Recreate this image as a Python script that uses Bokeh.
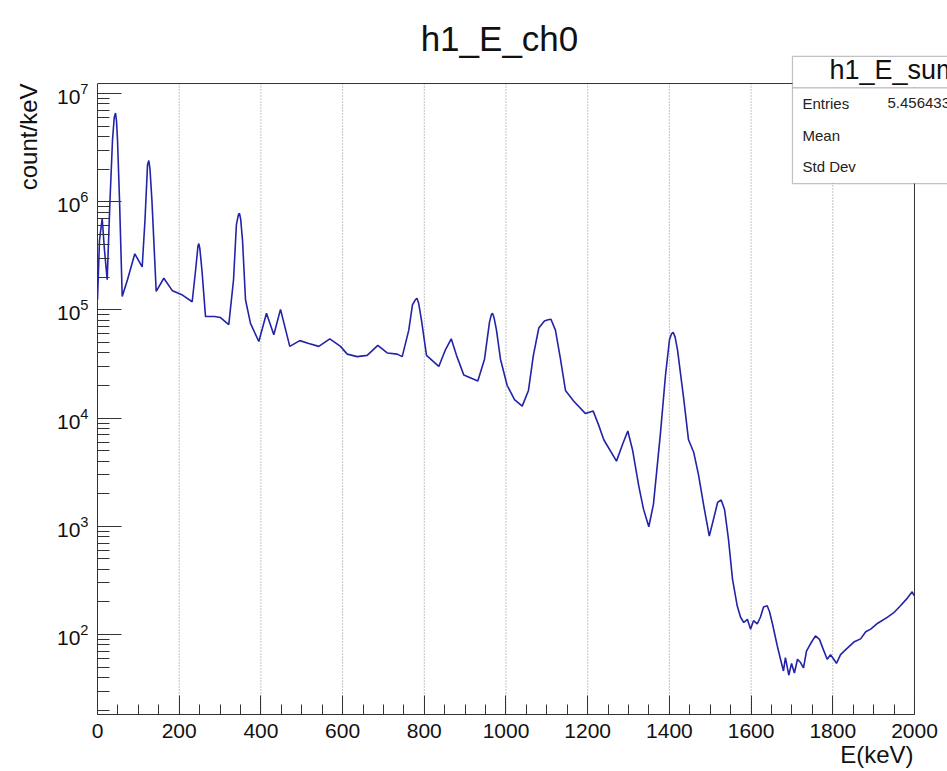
from bokeh.plotting import figure
from bokeh.models import Range1d, FixedTicker, Label, BoxAnnotation, Title
from bokeh.embed import file_html
from bokeh.resources import INLINE

# ---- data ----
energy_kev = [0, 4.9, 11.5, 17, 23.7, 30.6, 36.7, 41, 44.1, 46.5, 49, 53.9, 60.5, 73.4, 91.3, 109.4,
              116.3, 122.5, 125.6, 128.5, 133.4, 143.7, 162.3, 183.6, 208, 231.8, 240, 246, 248,
              250.5, 255.8, 264.4, 286.4, 301, 321.4, 333, 340, 345, 347.6, 350.5, 355, 362.3,
              374.5, 394.9, 413.7, 431.6, 448, 470.7, 495.2, 517.3, 541.7, 568.7, 594.9, 611.3,
              635.7, 660.2, 686.2, 709.2, 733.7, 745.9, 762, 771, 778, 782, 786, 793, 805.4,
              835.5, 852, 865.9, 878.8, 896.7, 931, 947.4, 959.6, 964, 967, 971, 976.7, 986.5,
              1002.9, 1020.8, 1039.7, 1055, 1067, 1080.3, 1094, 1103, 1110, 1121, 1133.4, 1145.6,
              1166, 1194.6, 1213.5, 1226.4, 1239.4, 1270.5, 1285.2, 1298.2, 1309.7, 1325.1,
              1336.6, 1349.6, 1361, 1378.2, 1390.5, 1400.2, 1405, 1409.3, 1414, 1419.8, 1435.3,
              1446.8, 1459.7, 1471.2, 1484.2, 1497.7, 1508, 1518, 1526.8, 1535, 1544.6, 1554.5,
              1566, 1574, 1582, 1591, 1598.5, 1606, 1615, 1623, 1630.4, 1639.4, 1645, 1652.4,
              1663.9, 1672, 1679.3, 1684, 1692.3, 1699, 1706, 1713.6, 1721, 1728.3, 1735.6,
              1745.4, 1757.6, 1767.4, 1777.2, 1786.3, 1794.4, 1802.5, 1809, 1819, 1831, 1851.5,
              1868, 1880.7, 1892.8, 1910, 1933.2, 1948.6, 1965.7, 1980.4, 1994.4, 1999]
counts_per_kev = [1.24e5, 4.4e5, 7.0e5, 3.6e5, 1.9e5, 1.03e6, 3.7e6, 6.0e6, 6.6e6, 5.6e6, 3.7e6,
                  1.03e6, 1.33e5, 1.9e5, 3.3e5, 2.5e5, 6.8e5, 2.2e6, 2.4e6, 2.0e6, 1.0e6, 1.48e5,
                  1.96e5, 1.5e5, 1.37e5, 1.19e5, 2.3e5, 3.9e5, 4.1e5, 3.7e5, 2.3e5, 8.7e4, 8.7e4,
                  8.5e4, 7.3e4, 1.9e5, 6.1e5, 7.6e5, 7.8e5, 6.9e5, 4.4e5, 1.24e5, 7.5e4, 5.1e4,
                  9.3e4, 5.9e4, 1.01e5, 4.6e4, 5.2e4, 4.9e4, 4.6e4, 5.4e4, 4.6e4, 3.9e4, 3.7e4,
                  3.8e4, 4.7e4, 4.0e4, 3.9e4, 3.7e4, 6.5e4, 1.11e5, 1.24e5, 1.28e5, 1.16e5, 8.1e4,
                  3.8e4, 3.0e4, 4.3e4, 5.4e4, 3.8e4, 2.5e4, 2.2e4, 3.5e4, 7.7e4, 9.0e4, 9.3e4,
                  8.4e4, 6.5e4, 3.5e4, 2.0e4, 1.48e4, 1.29e4, 1.8e4, 3.8e4, 6.8e4, 7.9e4, 8.1e4,
                  8.2e4, 6.5e4, 3.5e4, 1.8e4, 1.43e4, 1.1e4, 1.16e4, 8.7e3, 6.3e3, 4.0e3, 5.7e3,
                  7.6e3, 5.1e3, 2.35e3, 1.44e3, 990, 1.6e3, 7.3e3, 2.5e4, 5.3e4, 6.0e4, 6.2e4,
                  5.6e4, 4.3e4, 1.48e4, 6.3e3, 4.8e3, 3.0e3, 1.54e3, 810, 1.16e3, 1.66e3, 1.75e3,
                  1.43e3, 760, 325, 184, 145, 129, 138, 112, 134, 125, 145, 179, 184, 163, 125, 79,
                  59, 46, 61, 42, 54, 44, 59, 55, 49, 70, 82, 97, 90, 72, 59, 65, 59, 54, 65, 72,
                  85, 91, 106, 112, 127, 144, 158, 184, 212, 248, 228]

x_major_ticks = [0, 200, 400, 600, 800, 1000, 1200, 1400, 1600, 1800, 2000]
x_minor_ticks = [e for e in range(50, 2000, 50) if e % 200 != 0]
x_grid_ticks = [200, 400, 600, 800, 1000, 1200, 1400, 1600, 1800]
y_major_ticks = [1e2, 1e3, 1e4, 1e5, 1e6, 1e7]

title_text = "h1_E_ch0"
x_label = "E(keV)"
y_label = "count/keV"
stats_name = "h1_E_sum"
stats_rows = ["Entries", "Mean", "Std Dev"]
stats_entries = "5.456433e+07"

# axis limits of the drawn histogram frame
X_MIN, X_MAX = 0, 2000
Y_MIN, Y_MAX = 18.2, 1.237e7
# the plotting area extends past the histogram frame (right edge and top),
# so that the title and the statistics box can be drawn there
X_VIEW_MAX = 2080.8
Y_VIEW_MAX = 7.24e7

y_minor_ticks = [k * 10.0 ** n for n in range(1, 8) for k in range(2, 10)
                 if Y_MIN <= k * 10.0 ** n <= Y_MAX]

FONT = "Liberation Sans"
LINE = "#2323a8"
DARK = "#333333"

p = figure(width=947, height=771, output_backend="svg", toolbar_location=None,
           y_axis_type="log",
           x_range=Range1d(X_MIN, X_VIEW_MAX), y_range=Range1d(Y_MIN, Y_VIEW_MAX),
           min_border_left=97, min_border_right=0, min_border_top=0, min_border_bottom=57,
           background_fill_color="white", border_fill_color="white")
p.outline_line_color = None
p.xgrid.visible = False
p.ygrid.visible = False

# axes
for ax in (p.xaxis[0], p.yaxis[0]):
    ax.axis_line_color = DARK
    ax.major_tick_line_color = DARK
    ax.minor_tick_line_color = DARK
    ax.major_tick_out = 0
    ax.minor_tick_out = 0
    ax.major_label_text_font = FONT
    ax.major_label_text_font_size = "21px"
    ax.major_label_text_color = "#111111"

p.xaxis.bounds = (X_MIN, X_MAX)
p.xaxis.ticker = FixedTicker(ticks=x_major_ticks, minor_ticks=x_minor_ticks)
p.xaxis.major_tick_in = 19
p.xaxis.minor_tick_in = 10
p.xaxis.major_label_standoff = 9

p.yaxis.bounds = (Y_MIN, Y_MAX)
p.yaxis.ticker = FixedTicker(ticks=y_major_ticks, minor_ticks=y_minor_ticks)
p.yaxis.major_tick_in = 24
p.yaxis.minor_tick_in = 12
p.yaxis.major_label_standoff = 9

# dotted vertical grid lines inside the histogram frame
p.segment(x0=x_grid_ticks, y0=[Y_MIN] * len(x_grid_ticks), x1=x_grid_ticks,
          y1=[Y_MAX] * len(x_grid_ticks), line_color="#8a8a8a", line_dash="1 2", line_width=1)

# top and right edges of the histogram frame
p.segment(x0=[X_MIN, X_MAX], y0=[Y_MAX, Y_MIN], x1=[X_MAX, X_MAX], y1=[Y_MAX, Y_MAX],
          line_color=DARK, line_width=1)

# spectrum
p.line(energy_kev, counts_per_kev, line_color=LINE, line_width=1.6)

# title
p.add_layout(Label(x=984, y=3.22e7, text=title_text, text_align="center", text_baseline="middle",
                   text_font=FONT, text_font_size="35px", text_color="#111111"))

# axis titles (in side panels, aligned at the axis ends)
p.add_layout(Title(text=x_label, align="right", offset=34, standoff=-3,
                   text_font=FONT, text_font_size="24px", text_font_style="normal",
                   text_color="#111111"), "below")
p.add_layout(Title(text=y_label, align="right", offset=83, standoff=24,
                   text_font=FONT, text_font_size="24px", text_font_style="normal",
                   text_color="#111111"), "left")

# statistics box
p.add_layout(BoxAnnotation(left=1701.3, right=2200, top=1.13e7, bottom=1.47e6,
                           fill_color="white", fill_alpha=1, line_color="#333333", line_width=1.2,
                           level="overlay"))
p.add_layout(BoxAnnotation(left=1701.3, right=2200, top=2.2e7, bottom=1.13e7,
                           fill_color="white", fill_alpha=1, line_color="#333333", line_width=1.2,
                           level="overlay"))
p.add_layout(Label(x=1792, y=1.632e7, text=stats_name, text_align="left", text_baseline="middle",
                   text_font=FONT, text_font_size="27px", text_color="#111111", level="overlay"))
row_y = [8.13e6, 4.09e6, 2.11e6]
for name, yy in zip(stats_rows, row_y):
    p.add_layout(Label(x=1725.8, y=yy, text=name, text_align="left", text_baseline="middle",
                       text_font=FONT, text_font_size="15px", text_color="#222222",
                       level="overlay"))
p.add_layout(Label(x=1933.9, y=row_y[0], text=stats_entries, text_align="left",
                   text_baseline="middle", text_font=FONT, text_font_size="15px",
                   text_color="#222222", level="overlay"))

open("out.html", "w").write(file_html(p, INLINE))
